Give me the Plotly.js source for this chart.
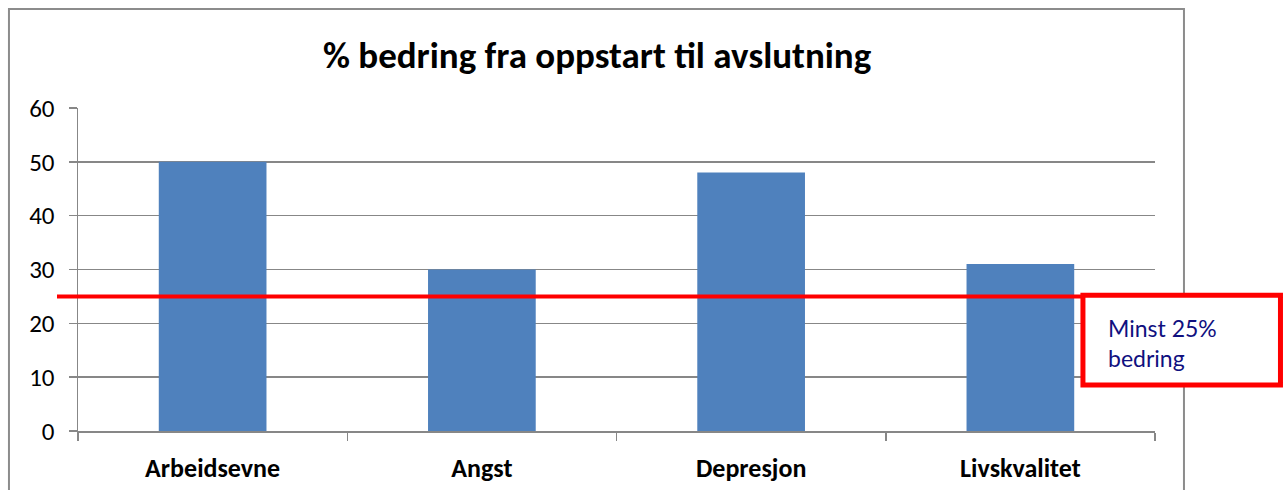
<!DOCTYPE html>
<html>
<head>
<meta charset="utf-8">
<script src="https://cdn.plot.ly/plotly-3.0.1.min.js"></script>
<style>
html,body{margin:0;padding:0;background:#fff;}
#chart{width:1287px;height:490px;}
</style>
</head>
<body>
<div id="chart"></div>
<script>
const categories = ["Arbeidsevne", "Angst", "Depresjon", "Livskvalitet"];
const values = [50, 30, 48, 31];
const yTicks = [0, 10, 20, 30, 40, 50, 60];
const threshold = 25;
const titleText = "% bedring fra oppstart til avslutning";
const noteText = "Minst 25%<br>bedring";

const FONT = "Carlito, 'Liberation Sans', Arial, sans-serif";
const GRID = "#878787";

const trace = {
  type: "bar",
  x: categories,
  y: values,
  marker: {color: "#4f81bd", line: {width: 0}},
  hoverinfo: "x+y"
};

const layout = {
  width: 1287,
  height: 490,
  margin: {l: 78, r: 132, t: 108, b: 59, pad: 0},
  paper_bgcolor: "#ffffff",
  plot_bgcolor: "#ffffff",
  showlegend: false,
  bargap: 0.6,
  title: {
    text: "<b>" + titleText + "</b>",
    font: {family: FONT, size: 37, color: "#000000"},
    x: 0.482, xref: "paper", xanchor: "center",
    y: 0.888, yref: "container", yanchor: "middle"
  },
  xaxis: {
    type: "category",
    showgrid: false,
    showline: true,
    linecolor: GRID,
    linewidth: 1.5,
    ticks: "outside",
    tickson: "boundaries",
    ticklen: 8,
    tickcolor: GRID,
    tickwidth: 1.5,
    ticklabelstandoff: 13,
    tickfont: {family: FONT, size: 26, color: "#000000", weight: "bold"},
    zeroline: false,
    fixedrange: true
  },
  yaxis: {
    range: [0, 60],
    tickvals: yTicks,
    ticktext: yTicks.map(String),
    showgrid: true,
    gridcolor: GRID,
    gridwidth: 1.5,
    showline: true,
    linecolor: GRID,
    linewidth: 1.5,
    ticks: "outside",
    ticklen: 8,
    tickcolor: GRID,
    tickwidth: 1.5,
    ticklabelstandoff: 9,
    tickfont: {family: FONT, size: 25, color: "#000000"},
    zeroline: false,
    fixedrange: true
  },
  shapes: [
    {
      type: "rect", xref: "paper", yref: "paper",
      x0: -0.0641, x1: 1.0269, y0: -0.25, y1: 1.3065,
      line: {color: "#8c8c8c", width: 2}, fillcolor: "rgba(0,0,0,0)", layer: "below"
    },
    {
      type: "line", xref: "paper", yref: "y",
      x0: -0.0195, x1: 0.9313, y0: threshold, y1: threshold,
      line: {color: "#ff0000", width: 4}, layer: "above"
    },
    {
      type: "rect", xref: "paper", yref: "y",
      x0: 0.9331, x1: 1.1165, y0: 8.55, y1: threshold + 0.2,
      line: {color: "#ff0000", width: 5}, fillcolor: "#ffffff", layer: "above"
    }
  ],
  annotations: [
    {
      xref: "paper", yref: "y",
      x: 0.9545, y: 16.3,
      xanchor: "left", yanchor: "middle",
      align: "left",
      showarrow: false,
      text: noteText,
      font: {family: "Lato, 'Open Sans', sans-serif", size: 23, color: "#10107f"}
    }
  ]
};

Plotly.newPlot("chart", [trace], layout, {displayModeBar: false, staticPlot: true});
</script>
</body>
</html>
